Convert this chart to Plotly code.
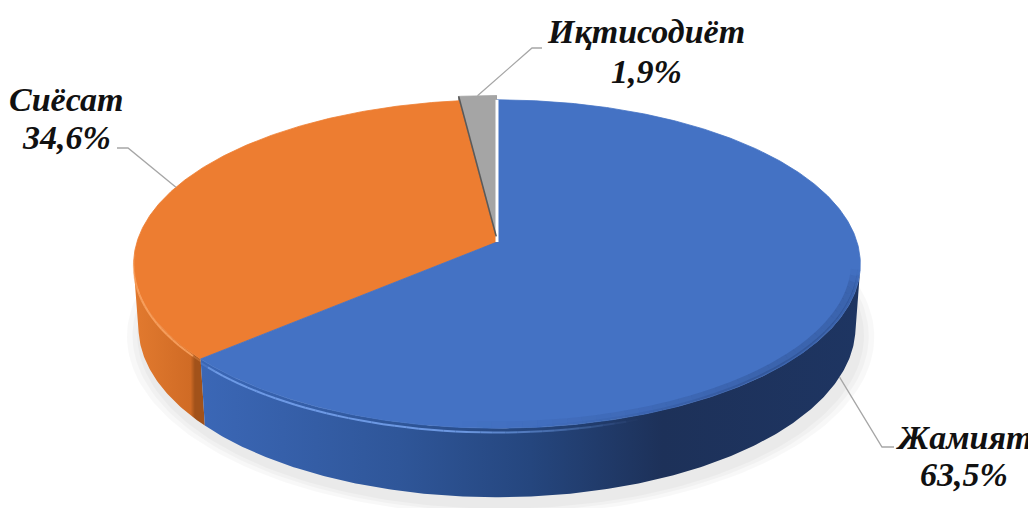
import numpy as np
import plotly.graph_objects as go

# ---- data ----
labels = ["Жамият", "Сиёсат", "Иқтисодиёт"]
values = [63.5, 34.6, 1.9]

# ---- styles ----
top_colors = ["#4472C4", "#ED7D31", "#A5A5A5"]
wall_scales = [
    [[0, "#3B67B6"], [0.3, "#2F5699"], [0.5, "#25467E"], [0.7, "#1D3159"], [1, "#1E3562"]],
    [[0, "#E27A2F"], [0.8, "#D06B25"], [0.86, "#A2521A"], [1, "#A2521A"]],
    [[0, "#8A8A8A"], [1, "#8A8A8A"]],
]
explode = [0.0, 0.0, 0.035]
leader_y = [-1.0, 0.0, 0.0]          # leader anchor height (fraction of depth)
label_text_pos = [(964, 437, 474), (66, 99, 137), (646, 31, 71)]
leader_elbow = [((882, 447), (894, 447)), ((128, 148), (117, 148)), ((532, 48), (542, 48))]

# page body has an 8px margin: the figure covers page pixels 8..1036 / 8..508
PAD = 8
W, HPX = 1036, 508
CX, CY = 497, 242
K, D, ALPHA, H = 2398.0, 6.66, np.radians(26.6), 0.196


def proj(X, Z, Y=0.0):
    X, Z, Y = np.asarray(X, float), np.asarray(Z, float), np.asarray(Y, float)
    v = Z * np.sin(ALPHA) + Y * np.cos(ALPHA)
    w = D + Z * np.cos(ALPHA) - Y * np.sin(ALPHA)
    return CX + K * X / w, CY - K * v / w


def arc(a, b, n=None):
    n = n or max(8, int(abs(b - a) * 2))
    t = np.radians(np.linspace(a, b, n))
    return np.sin(t), np.cos(t)


total = sum(values)
bounds = np.concatenate([[0], np.cumsum(values) / total * 360])
sil = np.degrees(np.arccos(-1 / (D * np.cos(ALPHA))))
sil_range = (sil, 360 - sil)

fig = go.Figure()


def poly(x, y, color=None, grad=None, lw=0.8):
    kw = dict(x=list(x) + [x[0]], y=list(y) + [y[0]], mode="lines", fill="toself",
              hoverinfo="skip", showlegend=False)
    if grad is not None:
        kw["fillgradient"] = dict(type="horizontal", colorscale=grad)
        kw["line"] = dict(width=0, color="rgba(0,0,0,0)")
    else:
        kw["fillcolor"] = color
        kw["line"] = dict(width=lw, color=color)
    fig.add_trace(go.Scatter(**kw))


def line(x, y, color, width):
    fig.add_trace(go.Scatter(x=list(x), y=list(y), mode="lines",
                             line=dict(color=color, width=width),
                             hoverinfo="skip", showlegend=False))


# soft shadow under the pie
for s in [1.04, 1.025, 1.012]:
    X, Z = arc(0, 360, 240)
    sx, sy = proj(X * s + 0.01, Z * s - 0.015, -H - 0.01)
    poly(sx, sy + 2, "rgba(0,0,0,0.028)", lw=0)


def offset(i):
    mid = np.radians((bounds[i] + bounds[i + 1]) / 2)
    return explode[i] * np.sin(mid), explode[i] * np.cos(mid)


def wall(i):
    a, b = bounds[i], bounds[i + 1]
    lo, hi = max(a, sil_range[0]), min(b, sil_range[1])
    if hi <= lo:
        return
    ox, oz = offset(i)
    X, Z = arc(lo, hi)
    tx, ty = proj(X + ox, Z + oz, 0)
    bx, by = proj(X + ox, Z + oz, -H)
    poly(np.concatenate([tx, bx[::-1]]), np.concatenate([ty, by[::-1]]), grad=wall_scales[i])


def cut_face(i, ang, color):
    ox, oz = offset(i)
    t = np.radians(ang)
    px = [ox, ox + np.sin(t), ox + np.sin(t), ox]
    pz = [oz, oz + np.cos(t), oz + np.cos(t), oz]
    py = [0, 0, -H, -H]
    x, y = proj(px, pz, py)
    poly(x, y, color, lw=0.5)


def top(i):
    ox, oz = offset(i)
    X, Z = arc(bounds[i], bounds[i + 1])
    x, y = proj(np.concatenate([[0], X]) + ox, np.concatenate([[0], Z]) + oz, 0)
    poly(x, y, top_colors[i])


def tapered_rim(i, a, b, rgb, amax, width, Y=0.0, r=1.0, fade_in=10, fade_out=30, nseg=40):
    """A rim line along the top edge whose opacity fades in and out (bevel look)."""
    ox, oz = offset(i)
    edges = np.linspace(a, b, nseg + 1)
    for s0, s1 in zip(edges[:-1], edges[1:]):
        m = (s0 + s1) / 2
        f = min(1.0, (m - a) / fade_in, (b - m) / fade_out)
        X, Z = arc(s0, s1, 4)
        x, y = proj(X * r + ox, Z * r + oz, Y)
        line(x, y, f"rgba({rgb},{amax * max(f, 0):.3f})", width)


# back slice first
cut_face(2, bounds[2], "#5F5F5F")
cut_face(2, bounds[3], "#5F5F5F")
top(2)
# walls
wall(1)
wall(0)
# tops
top(1)
top(0)
# bevel shading of the top faces
tapered_rim(0, sil_range[0], 185, "25,45,90", 0.20, 7, r=0.984, fade_in=6, fade_out=45)
tapered_rim(0, sil_range[0], 175, "25,45,90", 0.22, 3, r=0.996, fade_in=6, fade_out=40)
tapered_rim(0, 160, bounds[1], "115,160,235", 0.9, 2, Y=-0.012, fade_in=25, fade_out=3)
tapered_rim(1, bounds[1], sil_range[1] + 8, "250,165,100", 0.85, 2, Y=-0.006,
            fade_in=3, fade_out=15, nseg=20)
# gap and dark edge around the exploded small slice
gx, gy = proj([0, 0], [0, 1], 0)
line(gx, gy, "white", 3)
ox, oz = offset(2)
t = np.radians(bounds[2])
ex_, ey_ = proj([ox, ox + np.sin(t)], [oz, oz + np.cos(t)], 0)
line(ex_, ey_, "#5A5A5A", 1.6)

# labels and leader lines
font = dict(family="Liberation Serif", size=34, color="#111111", weight="bold", style="italic")
for i, (lab, val) in enumerate(zip(labels, values)):
    ox, oz = offset(i)
    mid = np.radians((bounds[i] + bounds[i + 1]) / 2)
    sx, sy = proj(np.sin(mid) + ox, np.cos(mid) + oz, leader_y[i] * H)
    (ex, ey), (fx, fy) = leader_elbow[i]
    line([float(sx), ex, fx], [float(sy), ey, fy], "#A6A6A6", 1.3)
    cx, y1, y2 = label_text_pos[i]
    fig.add_annotation(x=cx, y=y1, text=lab, showarrow=False, font=font,
                       xanchor="center", yanchor="middle")
    fig.add_annotation(x=cx, y=y2, text=f"{val:.1f}%".replace(".", ","), showarrow=False,
                       font=font, xanchor="center", yanchor="middle")

fig.update_layout(
    width=W - PAD, height=HPX - PAD, margin=dict(l=0, r=0, t=0, b=0),
    paper_bgcolor="white", plot_bgcolor="white",
    xaxis=dict(range=[PAD, W], visible=False, fixedrange=True),
    yaxis=dict(range=[HPX, PAD], visible=False, fixedrange=True),
    showlegend=False,
)
fig.write_html("out.html")
